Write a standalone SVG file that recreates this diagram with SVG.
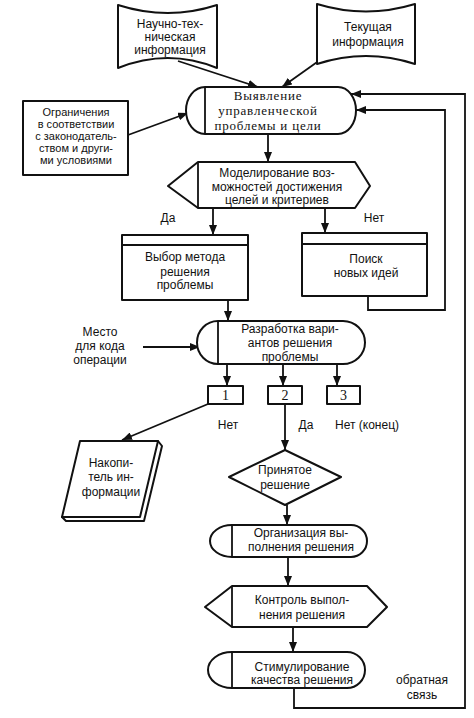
<svg xmlns="http://www.w3.org/2000/svg" width="474" height="718" viewBox="0 0 474 718">
<style>
.s{fill:#fff;stroke:#111;stroke-width:2;stroke-linejoin:round}
.l{fill:none;stroke:#111;stroke-width:1.8}
.t{font-family:"Liberation Sans",Arial,sans-serif;font-size:12px;fill:#111;text-anchor:middle}
.t2{font-family:"Liberation Sans",Arial,sans-serif;font-size:11px;fill:#111;text-anchor:middle}
.sr{font-family:"Liberation Serif","Times New Roman",serif;font-size:13px;fill:#111;text-anchor:middle;letter-spacing:0.8px}
.n{font-family:"Liberation Serif","Times New Roman",serif;font-size:14px;fill:#111;text-anchor:middle}
</style>
<defs>
<marker id="a" viewBox="0 0 10 8" refX="10" refY="4" markerWidth="10" markerHeight="8" markerUnits="userSpaceOnUse" orient="auto">
<path d="M0,0 L10,4 L0,8 Z" fill="#111"/>
</marker>
</defs>
<rect width="474" height="718" fill="#fff"/>
<g id="connectors" class="l" marker-end="url(#a)">
<line x1="178" y1="61" x2="258" y2="87"/>
<line x1="320" y1="60" x2="282" y2="87"/>
<line x1="128" y1="135" x2="188" y2="113"/>
<line x1="268" y1="134" x2="268" y2="162"/>
<line x1="213" y1="208" x2="213" y2="235"/>
<line x1="325" y1="208" x2="325" y2="233"/>
<line x1="228" y1="300" x2="228" y2="321"/>
<line x1="143" y1="347" x2="200" y2="347"/>
<line x1="227" y1="364" x2="227" y2="386"/>
<line x1="283" y1="364" x2="283" y2="386"/>
<line x1="337" y1="364" x2="337" y2="386"/>
<line x1="208" y1="404" x2="122" y2="440"/>
<line x1="285" y1="404" x2="285" y2="450"/>
<line x1="287" y1="505" x2="287" y2="525"/>
<line x1="288" y1="557" x2="288" y2="586"/>
<line x1="293" y1="627" x2="293" y2="652"/>
<polyline points="368,296 368,310 445,310 445,110 356,110"/>
<polyline points="294,688 294,708 465,708 465,94 351,94"/>
</g>
<g id="n-nauch">
<path class="s" d="M118,5 Q168,21 217,5 L217,68 Q168,48 118,68 Z"/>
<text class="t" x="170" y="28">Научно-тех-</text>
<text class="t" x="170" y="41">ническая</text>
<text class="t" x="170" y="54">информация</text>
</g>
<g id="n-tek">
<path class="s" d="M317,4 Q366,19 415,4 L415,64 Q366,48 317,64 Z"/>
<text class="t" x="368" y="31">Текущая</text>
<text class="t" x="368" y="46">информация</text>
</g>
<g id="n-vyyav">
<path class="s" d="M205,87 L338,87 A18,23.5 0 0 1 338,134 L205,134 A19,23.5 0 0 1 205,87 Z"/>
<line class="l" x1="205" y1="87" x2="205" y2="134"/>
<text class="sr" x="268" y="100">Выявление</text>
<text class="sr" x="268" y="115">управленческой</text>
<text class="sr" x="268" y="130">проблемы и цели</text>
</g>
<g id="n-ogr">
<rect class="s" x="23" y="101" width="105" height="74"/>
<text class="t2" x="76" y="116">Ограничения</text>
<text class="t2" x="76" y="128">в соответствии</text>
<text class="t2" x="76" y="140">с законодатель-</text>
<text class="t2" x="76" y="152">ством и други-</text>
<text class="t2" x="76" y="164">ми условиями</text>
</g>
<g id="n-model">
<path class="s" d="M168,186 L198,162 L355,162 L370,186 L355,208 L198,208 Z"/>
<line class="l" x1="198" y1="162" x2="198" y2="208"/>
<text class="t" x="277" y="177">Моделирование воз-</text>
<text class="t" x="277" y="191">можностей достижения</text>
<text class="t" x="277" y="204">целей и критериев</text>
</g>
<text class="t" x="168" y="222">Да</text>
<text class="t" x="374" y="222">Нет</text>
<g id="n-vybor">
<rect class="s" x="122" y="235" width="126" height="65"/>
<line class="l" x1="122" y1="245" x2="248" y2="245"/>
<text class="t" x="185" y="261">Выбор метода</text>
<text class="t" x="185" y="276">решения</text>
<text class="t" x="185" y="289">проблемы</text>
</g>
<g id="n-poisk">
<rect class="s" x="302" y="233" width="125" height="63"/>
<line class="l" x1="302" y1="244" x2="427" y2="244"/>
<text class="t" x="366" y="263">Поиск</text>
<text class="t" x="366" y="277">новых идей</text>
</g>
<g id="n-razr">
<path class="s" d="M218,321 L343,321 A22,21.5 0 0 1 343,364 L218,364 A21,21.5 0 0 1 218,321 Z"/>
<line class="l" x1="218" y1="321" x2="218" y2="364"/>
<text class="t" x="290" y="333">Разработка вари-</text>
<text class="t" x="290" y="347">антов решения</text>
<text class="t" x="290" y="361">проблемы</text>
</g>
<g id="n-mesto">
<text class="t" x="100" y="336">Место</text>
<text class="t" x="100" y="350">для кода</text>
<text class="t" x="100" y="364">операции</text>
</g>
<g id="n-1">
<rect class="s" x="208" y="386" width="35" height="18"/>
<text class="n" x="225.5" y="400">1</text>
</g>
<g id="n-2">
<rect class="s" x="268" y="386" width="34" height="18"/>
<text class="n" x="285" y="400">2</text>
</g>
<g id="n-3">
<rect class="s" x="327" y="386" width="33" height="18"/>
<text class="n" x="343.5" y="400">3</text>
</g>
<text class="t" x="228" y="429">Нет</text>
<text class="t" x="306" y="429">Да</text>
<text class="t" x="367" y="429">Нет (конец)</text>
<g id="n-nakop">
<path class="s" d="M158,441 L162,446 L144,521 L66,521 L62,517 Z"/>
<path class="s" d="M80,441 L158,441 L140,517 L62,517 Z"/>
<text class="t" x="111" y="467">Накопи-</text>
<text class="t" x="111" y="481">тель ин-</text>
<text class="t" x="111" y="496">формации</text>
</g>
<g id="n-prin">
<path class="s" d="M285,450 L341,477 L285,505 L229,477 Z"/>
<text class="t" x="285" y="474">Принятое</text>
<text class="t" x="285" y="489">решение</text>
</g>
<g id="n-org">
<path class="s" d="M232,525 L351,525 A16,16 0 0 1 351,557 L232,557 A22,16 0 0 1 232,525 Z"/>
<line class="l" x1="232" y1="525" x2="232" y2="557"/>
<text class="t" x="301" y="537">Организация вы-</text>
<text class="t" x="301" y="551">полнения решения</text>
</g>
<g id="n-kontr">
<path class="s" d="M205,607 L232,586 L367,586 L387,607 L367,627 L232,627 Z"/>
<line class="l" x1="232" y1="586" x2="232" y2="627"/>
<text class="t" x="302" y="604">Контроль выпол-</text>
<text class="t" x="302" y="619">нения решения</text>
</g>
<g id="n-stim">
<path class="s" d="M232,652 L347,652 A18,18 0 0 1 347,688 L232,688 A24,18 0 0 1 232,652 Z"/>
<line class="l" x1="232" y1="652" x2="232" y2="688"/>
<text class="t" x="302" y="671">Стимулирование</text>
<text class="t" x="302" y="684">качества решения</text>
</g>
<text class="t" x="422" y="684">обратная</text>
<text class="t" x="422" y="699">связь</text>
</svg>
